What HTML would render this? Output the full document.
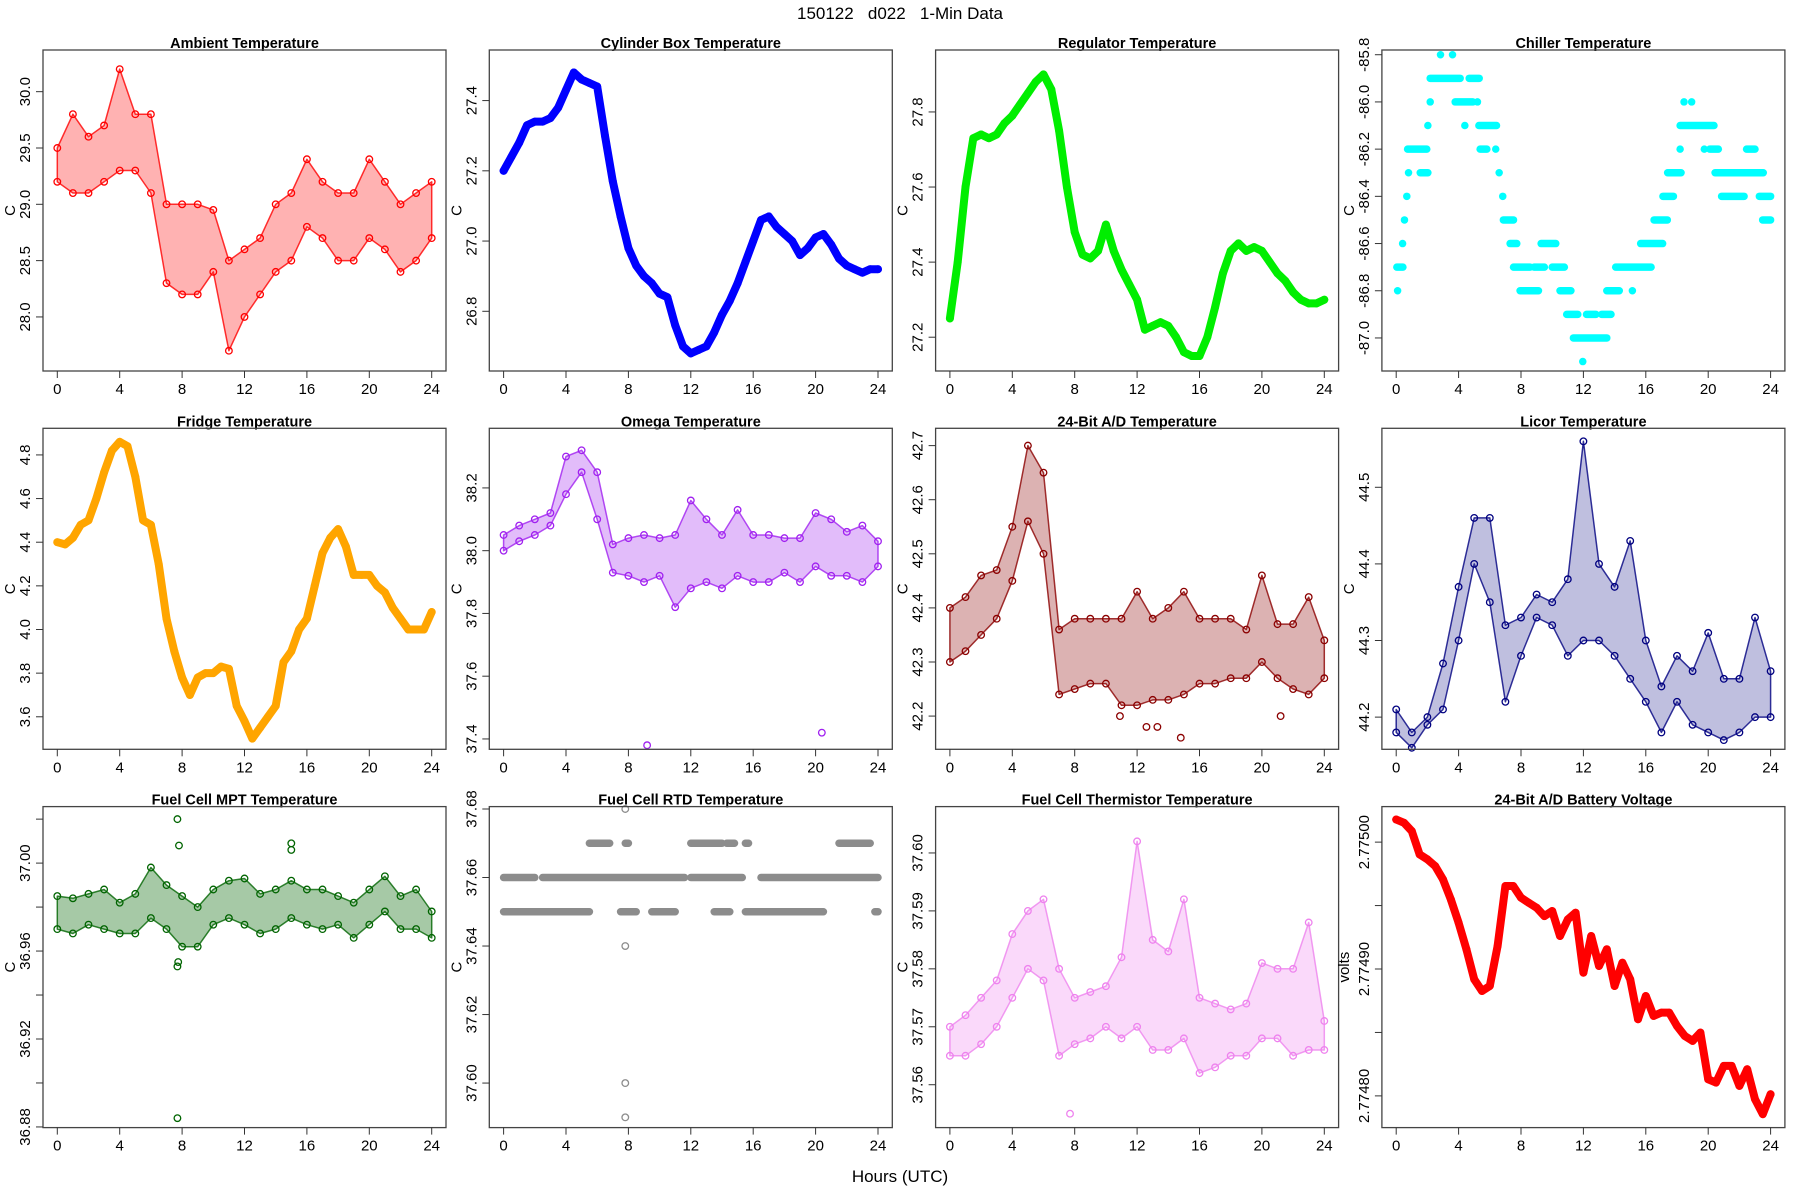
<!DOCTYPE html>
<html><head><meta charset="utf-8"><title>150122 d022 1-Min Data</title>
<style>
html,body{margin:0;padding:0;background:#fff;}
svg{display:block;font-family:"Liberation Sans",sans-serif;}
</style></head>
<body>
<svg id="fig" width="1800" height="1200" viewBox="0 0 1800 1200" xmlns="http://www.w3.org/2000/svg">
<rect x="0" y="0" width="1800" height="1200" fill="#fff"/>
<text x="900" y="19" text-anchor="middle" font-size="17">150122&#160;&#160;&#160;d022&#160;&#160;&#160;1-Min Data</text>
<text x="900" y="1182" text-anchor="middle" font-size="17">Hours (UTC)</text>
</svg>
<script>
// ---- shared x grids ----
const hourly = [0,1,2,3,4,5,6,7,8,9,10,11,12,13,14,15,16,17,18,19,20,21,22,23,24];
const halfHours = [0,0.5,1,1.5,2,2.5,3,3.5,4,4.5,5,5.5,6,6.5,7,7.5,8,8.5,9,9.5,10,10.5,11,11.5,12,12.5,13,13.5,14,14.5,15,15.5,16,16.5,17,17.5,18,18.5,19,19.5,20,20.5,21,21.5,22,22.5,23,23.5,24];
const xTicks = [0,4,8,12,16,20,24];

// ---- Ambient (band) ----
const ambientLo = [29.2,29.1,29.1,29.2,29.3,29.3,29.1,28.3,28.2,28.2,28.4,27.7,28.0,28.2,28.4,28.5,28.8,28.7,28.5,28.5,28.7,28.6,28.4,28.5,28.7];
const ambientHi = [29.5,29.8,29.6,29.7,30.2,29.8,29.8,29.0,29.0,29.0,28.95,28.5,28.6,28.7,29.0,29.1,29.4,29.2,29.1,29.1,29.4,29.2,29.0,29.1,29.2];
const ambientTicks = [28.0,28.5,29.0,29.5,30.0];
// ---- Cylinder box ----
const cylinderVals = [27.2,27.24,27.28,27.33,27.34,27.34,27.35,27.38,27.43,27.48,27.46,27.45,27.44,27.3,27.17,27.07,26.98,26.93,26.9,26.88,26.85,26.84,26.76,26.7,26.68,26.69,26.7,26.74,26.79,26.83,26.88,26.94,27.0,27.06,27.07,27.04,27.02,27.0,26.96,26.98,27.01,27.02,26.99,26.95,26.93,26.92,26.91,26.92,26.92];
const cylinderTicks = [26.8,27.0,27.2,27.4];
// ---- Regulator ----
const regulatorVals = [27.25,27.4,27.6,27.73,27.74,27.73,27.74,27.77,27.79,27.82,27.85,27.88,27.9,27.86,27.75,27.6,27.48,27.42,27.41,27.43,27.5,27.43,27.38,27.34,27.3,27.22,27.23,27.24,27.23,27.2,27.16,27.15,27.15,27.2,27.28,27.37,27.43,27.45,27.43,27.44,27.43,27.4,27.37,27.35,27.32,27.3,27.29,27.29,27.3];
const regulatorTicks = [27.2,27.4,27.6,27.8];
// ---- Chiller (runs at discrete levels) ----
const chillerStart = [2.84,3.61,2.18,4.68,2.18,3.78,5.21,18.45,18.94,2.03,4.4,5.3,18.2,0.73,5.38,6.38,18.2,19.75,20.1,22.46,0.79,1.54,6.6,17.4,20.44,0.68,6.83,17.1,20.86,23.28,0.53,6.87,16.53,23.49,0.41,7.3,9.29,15.67,0.04,7.52,8.84,10.0,14.07,0.09,7.94,10.5,13.5,15.14,10.93,12.2,13.17,11.36,11.96];
const chillerEnd   = [2.84,3.61,4.1,5.32,2.18,4.91,5.21,18.45,18.94,2.03,4.4,6.43,20.37,1.96,5.81,6.38,18.2,19.75,20.65,23.0,0.79,2.03,6.6,18.26,23.53,0.68,6.83,17.77,22.3,24.0,0.53,7.52,17.38,24.0,0.41,7.73,10.23,17.08,0.43,8.58,9.5,10.78,16.34,0.09,9.12,11.2,14.3,15.14,11.64,12.8,13.77,13.5,11.96];
const chillerLevel = [-85.8,-85.8,-85.9,-85.9,-86.0,-86.0,-86.0,-86.0,-86.0,-86.1,-86.1,-86.1,-86.1,-86.2,-86.2,-86.2,-86.2,-86.2,-86.2,-86.2,-86.3,-86.3,-86.3,-86.3,-86.3,-86.4,-86.4,-86.4,-86.4,-86.4,-86.5,-86.5,-86.5,-86.5,-86.6,-86.6,-86.6,-86.6,-86.7,-86.7,-86.7,-86.7,-86.7,-86.8,-86.8,-86.8,-86.8,-86.8,-86.9,-86.9,-86.9,-87.0,-87.1];
const chillerTicks = [-87.0,-86.8,-86.6,-86.4,-86.2,-86.0,-85.8];
// ---- Fridge ----
const fridgeVals = [4.40,4.39,4.42,4.48,4.5,4.6,4.72,4.82,4.86,4.84,4.7,4.5,4.48,4.3,4.05,3.9,3.78,3.7,3.78,3.8,3.8,3.83,3.82,3.65,3.58,3.5,3.55,3.6,3.65,3.85,3.9,4.0,4.05,4.2,4.35,4.42,4.46,4.38,4.25,4.25,4.25,4.2,4.17,4.1,4.05,4.0,4.0,4.0,4.08];
const fridgeTicks = [3.6,3.8,4.0,4.2,4.4,4.6,4.8];
// ---- Omega (band) ----
const omegaLo = [38.0,38.03,38.05,38.08,38.18,38.25,38.1,37.93,37.92,37.9,37.92,37.82,37.88,37.9,37.88,37.92,37.9,37.9,37.93,37.9,37.95,37.92,37.92,37.9,37.95];
const omegaHi = [38.05,38.08,38.1,38.12,38.3,38.32,38.25,38.02,38.04,38.05,38.04,38.05,38.16,38.1,38.05,38.13,38.05,38.05,38.04,38.04,38.12,38.1,38.06,38.08,38.03];
const omegaOutH = [9.2,20.4];
const omegaOutV = [37.38,37.42];
const omegaTicks = [37.4,37.6,37.8,38.0,38.2];
// ---- 24-bit A/D temperature (band) ----
const adLo = [42.3,42.32,42.35,42.38,42.45,42.56,42.5,42.24,42.25,42.26,42.26,42.22,42.22,42.23,42.23,42.24,42.26,42.26,42.27,42.27,42.3,42.27,42.25,42.24,42.27];
const adHi = [42.4,42.42,42.46,42.47,42.55,42.7,42.65,42.36,42.38,42.38,42.38,42.38,42.43,42.38,42.4,42.43,42.38,42.38,42.38,42.36,42.46,42.37,42.37,42.42,42.34];
const adOutH = [10.9,12.6,13.3,14.8,21.2];
const adOutV = [42.2,42.18,42.18,42.16,42.2];
const adTicks = [42.2,42.3,42.4,42.5,42.6,42.7];
// ---- Licor (band) ----
const licorLo = [44.18,44.16,44.19,44.21,44.3,44.4,44.35,44.22,44.28,44.33,44.32,44.28,44.3,44.3,44.28,44.25,44.22,44.18,44.22,44.19,44.18,44.17,44.18,44.2,44.2];
const licorHi = [44.21,44.18,44.2,44.27,44.37,44.46,44.46,44.32,44.33,44.36,44.35,44.38,44.56,44.4,44.37,44.43,44.3,44.24,44.28,44.26,44.31,44.25,44.25,44.33,44.26];
const licorTicks = [44.2,44.3,44.4,44.5];
// ---- Fuel cell MPT (band) ----
const mptLo = [36.970,36.968,36.972,36.970,36.968,36.968,36.975,36.970,36.962,36.962,36.972,36.975,36.972,36.968,36.970,36.975,36.972,36.970,36.972,36.966,36.972,36.978,36.970,36.970,36.966];
const mptHi = [36.985,36.984,36.986,36.988,36.982,36.986,36.998,36.990,36.985,36.980,36.988,36.992,36.993,36.986,36.988,36.992,36.988,36.988,36.985,36.982,36.988,36.994,36.985,36.988,36.978];
const mptOutH = [7.7,7.8,7.7,7.75,7.7,15.0,15.0];
const mptOutV = [37.020,37.008,36.953,36.955,36.884,37.009,37.006];
const mptTicks = [36.88,36.90,36.92,36.94,36.96,36.98,37.00,37.02];
const mptLabels = ["36.88","","36.92","","36.96","","37.00",""];
// ---- Fuel cell RTD (runs) ----
const rtdStart = [0,2.5,12,16.5,0,7.5,9.5,13.5,15.5,23.8,5.5,7.8,12,14.3,15.5,21.5];
const rtdEnd   = [2,11.6,15.3,24,5.5,8.5,11,14.5,20.5,24,6.8,8,14,14.8,15.7,23.5];
const rtdLevel = [37.66,37.66,37.66,37.66,37.65,37.65,37.65,37.65,37.65,37.65,37.67,37.67,37.67,37.67,37.67,37.67];
const rtdOutH = [7.8,7.8,7.8,7.8];
const rtdOutV = [37.68,37.64,37.60,37.59];
const rtdTicks = [37.60,37.62,37.64,37.66,37.68];
// ---- Fuel cell thermistor (band) ----
const thermLo = [37.565,37.565,37.567,37.570,37.575,37.580,37.578,37.565,37.567,37.568,37.570,37.568,37.570,37.566,37.566,37.568,37.562,37.563,37.565,37.565,37.568,37.568,37.565,37.566,37.566];
const thermHi = [37.570,37.572,37.575,37.578,37.586,37.590,37.592,37.580,37.575,37.576,37.577,37.582,37.602,37.585,37.583,37.592,37.575,37.574,37.573,37.574,37.581,37.580,37.580,37.588,37.571];
const thermOutH = [7.7];
const thermOutV = [37.555];
const thermTicks = [37.56,37.57,37.58,37.59,37.60];
// ---- Battery voltage ----
const batteryVals = [2.7750178,2.7750152,2.7750087,2.7749903,2.7749864,2.7749811,2.7749706,2.7749549,2.7749365,2.7749155,2.7748919,2.7748827,2.7748866,2.7749181,2.7749654,2.7749654,2.7749562,2.7749522,2.7749483,2.7749417,2.7749457,2.7749260,2.7749391,2.7749444,2.7748971,2.7749260,2.7749024,2.7749155,2.7748866,2.7749050,2.7748919,2.7748604,2.7748787,2.7748630,2.7748656,2.7748656,2.7748551,2.7748472,2.7748433,2.7748499,2.7748131,2.7748105,2.7748236,2.7748236,2.7748079,2.7748210,2.7747974,2.7747856,2.7748013];
const batteryTicks = [2.77480,2.77485,2.77490,2.77495,2.77500];
const batteryLabels = ["2.77480","","2.77490","","2.77500"];

const NS = "http://www.w3.org/2000/svg";
const svg = document.getElementById("fig");
function mk(tag, attrs, parent){
  const e = document.createElementNS(NS, tag);
  for (const k in attrs) e.setAttribute(k, attrs[k]);
  (parent || svg).appendChild(e);
  return e;
}
const W = 403, H = 321, COLX = 446.3, ROWY = 378.3;

function makePanel(idx, key, title, ymin, ymax, yTicks, yLabels, ylab, fmt){
  const c = idx % 4, r = Math.floor(idx / 4);
  const L = 43 + c * COLX, T = 50 + r * ROWY;
  const g = mk("g", {});
  
  
  const xs = h => L + 14.3 + h / 24 * 374.4;
  const ys = v => T + (ymax - v) / (ymax - ymin) * H;
  const plot = mk("g", {}, g);
  
  
  const t = mk("text", {x: L + W / 2, y: T - 2, "text-anchor": "middle", "font-size": 14.5, "font-weight": "bold"}, g);
  
  
  t.textContent = title;
  const b = mk("rect", {x: L, y: T, width: W, height: H, fill: "none", stroke: "#444", "stroke-width": 1.3}, g);
  
  
  const xa = mk("g", {}, g);
  
  
  xTicks.forEach(h => {
    mk("line", {x1: xs(h), x2: xs(h), y1: T + H, y2: T + H + 7, stroke: "#333", "stroke-width": 1}, xa);
    const tl = mk("text", {x: xs(h), y: T + H + 23, "text-anchor": "middle", "font-size": 15}, xa);
    
    
    tl.textContent = String(h);
  });
  const ya = mk("g", {}, g);
  
  
  yTicks.forEach((v, i) => {
    const y = ys(v);
    mk("line", {x1: L, x2: L - 7, y1: y, y2: y, stroke: "#333", "stroke-width": 1}, ya);
    const lab = yLabels ? yLabels[i] : v.toFixed(fmt);
    if (lab) {
      const tl = mk("text", {x: L - 13, y: y, "text-anchor": "middle", "font-size": 15, transform: "rotate(-90 " + (L - 13) + " " + y + ")"}, ya);
      
      
      tl.textContent = lab;
    }
  });
  const yx = ylab === "volts" ? L - 33 : L - 28;
  const yt = mk("text", {x: yx, y: T + H / 2, "text-anchor": "middle", "font-size": 15, transform: "rotate(-90 " + yx + " " + (T + H / 2) + ")"}, g);
  
  
  yt.textContent = ylab;
  return {g: plot, xs, ys};
}

function drawLine(p, hs, vals, color){
  const pts = hs.map((h, i) => p.xs(h).toFixed(1) + "," + p.ys(vals[i]).toFixed(1)).join(" ");
  const pl = mk("polyline", {points: pts, fill: "none", stroke: color, "stroke-width": 8, "stroke-linejoin": "round", "stroke-linecap": "round"}, p.g);
  
  
  drawPoints(p, hs, vals, color);
}
function drawPoints(p, hs, vals, color){
  hs.forEach((h, i) => {
    const c = mk("circle", {cx: p.xs(h), cy: p.ys(vals[i]), r: 3.3, fill: "none", stroke: color, "stroke-width": 1.3}, p.g);
    
    
  });
}
function drawBand(p, hs, lo, hi, color, op){
  const top = hs.map((h, i) => p.xs(h).toFixed(1) + "," + p.ys(hi[i]).toFixed(1));
  const bot = hs.map((h, i) => p.xs(h).toFixed(1) + "," + p.ys(lo[i]).toFixed(1)).reverse();
  const pg = mk("polygon", {points: top.concat(bot).join(" "), fill: color, "fill-opacity": op, stroke: color, "stroke-width": 1.5, "stroke-opacity": 0.8, "stroke-linejoin": "round"}, p.g);
  
  
  drawPoints(p, hs, lo, color);
  drawPoints(p, hs, hi, color);
}
function drawRuns(p, st, en, lv, color){
  st.forEach((s, i) => {
    const ln = mk("line", {x1: p.xs(s), x2: p.xs(en[i]), y1: p.ys(lv[i]), y2: p.ys(lv[i]), stroke: color, "stroke-width": 7.5, "stroke-linecap": "round"}, p.g);
    
    
  });
}

let p;
p = makePanel(0, "ambient", "Ambient Temperature", 27.52, 30.37, ambientTicks, null, "C", 1);
drawBand(p, hourly, ambientLo, ambientHi, "#ff0000", 0.3);
p = makePanel(1, "cylinder-box", "Cylinder Box Temperature", 26.63, 27.544, cylinderTicks, null, "C", 1);
drawLine(p, halfHours, cylinderVals, "#0000ff");
p = makePanel(2, "regulator", "Regulator Temperature", 27.11, 27.965, regulatorTicks, null, "C", 1);
drawLine(p, halfHours, regulatorVals, "#00ee00");
p = makePanel(3, "chiller", "Chiller Temperature", -87.14, -85.78, chillerTicks, null, "C", 1);
drawRuns(p, chillerStart, chillerEnd, chillerLevel, "#00ffff");
p = makePanel(4, "fridge", "Fridge Temperature", 3.451, 4.922, fridgeTicks, null, "C", 1);
drawLine(p, halfHours, fridgeVals, "#ffa500");
p = makePanel(5, "omega", "Omega Temperature", 37.367, 38.39, omegaTicks, null, "C", 1);
drawBand(p, hourly, omegaLo, omegaHi, "#a020f0", 0.3);
drawPoints(p, omegaOutH, omegaOutV, "#a020f0");
p = makePanel(6, "ad-temp", "24-Bit A/D Temperature", 42.1386, 42.732, adTicks, null, "C", 1);
drawBand(p, hourly, adLo, adHi, "#8b0000", 0.3);
drawPoints(p, adOutH, adOutV, "#8b0000");
p = makePanel(7, "licor", "Licor Temperature", 44.158, 44.577, licorTicks, null, "C", 1);
drawBand(p, hourly, licorLo, licorHi, "#000080", 0.25);
p = makePanel(8, "fuel-cell-mpt", "Fuel Cell MPT Temperature", 36.8797, 37.0257, mptTicks, mptLabels, "C", 2);
drawBand(p, hourly, mptLo, mptHi, "#006400", 0.35);
drawPoints(p, mptOutH, mptOutV, "#006400");
p = makePanel(9, "fuel-cell-rtd", "Fuel Cell RTD Temperature", 37.587, 37.6807, rtdTicks, null, "C", 2);
drawRuns(p, rtdStart, rtdEnd, rtdLevel, "#8c8c8c");
drawPoints(p, rtdOutH, rtdOutV, "#8c8c8c");
p = makePanel(10, "fuel-cell-thermistor", "Fuel Cell Thermistor Temperature", 37.5526, 37.608, thermTicks, null, "C", 2);
drawBand(p, hourly, thermLo, thermHi, "#ee82ee", 0.3);
drawPoints(p, thermOutH, thermOutV, "#ee82ee");
p = makePanel(11, "battery-voltage", "24-Bit A/D Battery Voltage", 2.774775, 2.775028, batteryTicks, batteryLabels, "volts", 5);
drawLine(p, halfHours, batteryVals, "#ff0000");
</script>
</body></html>
